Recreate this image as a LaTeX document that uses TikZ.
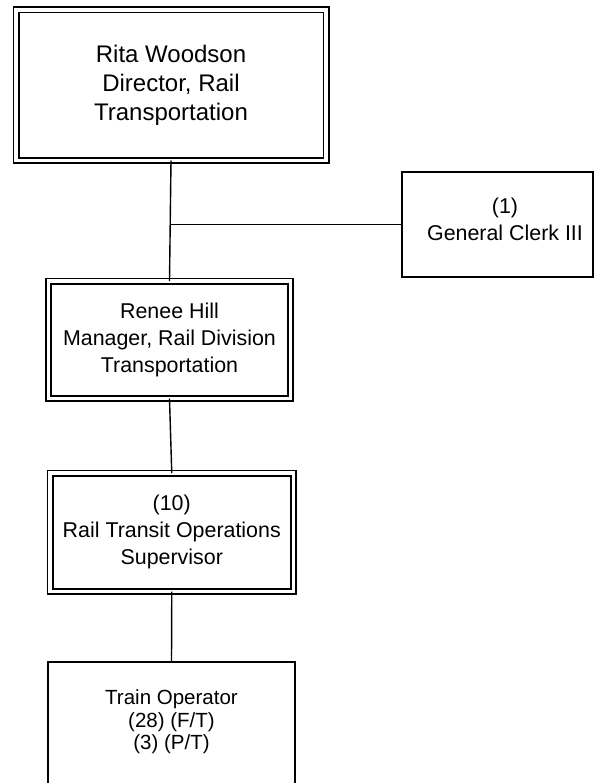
\documentclass[tikz,border=0pt]{standalone}
\usepackage{fontspec}
\setmainfont{Liberation Sans}
\begin{document}
\begin{tikzpicture}[x=1pt,y=-1pt,
  dblbox/.style={draw=black, double=white, double distance=3.8pt, line width=1.6pt, align=center, inner sep=0pt, outer sep=0pt},
  sglbox/.style={draw=black, line width=1.5pt, align=center, inner sep=0pt, outer sep=0pt},
  bigtxt/.style={font=\fontsize{24}{29}\selectfont},
  midtxt/.style={font=\fontsize{21.4}{26.8}\selectfont},
  smltxt/.style={font=\fontsize{20.5}{22.5}\selectfont, align=center},
  conn/.style={draw=black, line width=1.4pt}]
\useasboundingbox[fill=white] (0,0) rectangle (596,783);
\begin{scope}
\clip (0,0) rectangle (596,783);
\node[dblbox, bigtxt, minimum width=310pt, minimum height=150.5pt] (top) at (171,85.25)
  {Rita Woodson\\Director, Rail\\Transportation};
\node[sglbox, minimum width=191pt, minimum height=105pt] (clerk) at (497.5,224.5) {};
\node[midtxt, align=center] (clerktxt) at (505,219) {(1)\\General Clerk III};
\node[dblbox, midtxt, minimum width=242pt, minimum height=117.5pt] (renee) at (169.5,339.75)
  {Renee Hill\\Manager, Rail Division\\Transportation};
\node[dblbox, midtxt, minimum width=243.5pt, minimum height=118.5pt] (sup) at (171.75,532.25)
  {(10)\\Rail Transit Operations\\Supervisor};
\node[sglbox, minimum width=247pt, minimum height=150pt] (train) at (171.5,737) {};
\node[smltxt] (traintxt) at (171.5,722) {Train Operator\\(28) (F/T)\\(3) (P/T)};
\coordinate (j) at (top.south |- clerk.west);
\draw[conn] (top.south) -- (renee.north);
\draw[conn] (j) -- (clerk.west);
\draw[conn] (renee.south) -- (sup.north);
\draw[conn] (sup.south) -- (train.north);
\end{scope}
\end{tikzpicture}
\end{document}
